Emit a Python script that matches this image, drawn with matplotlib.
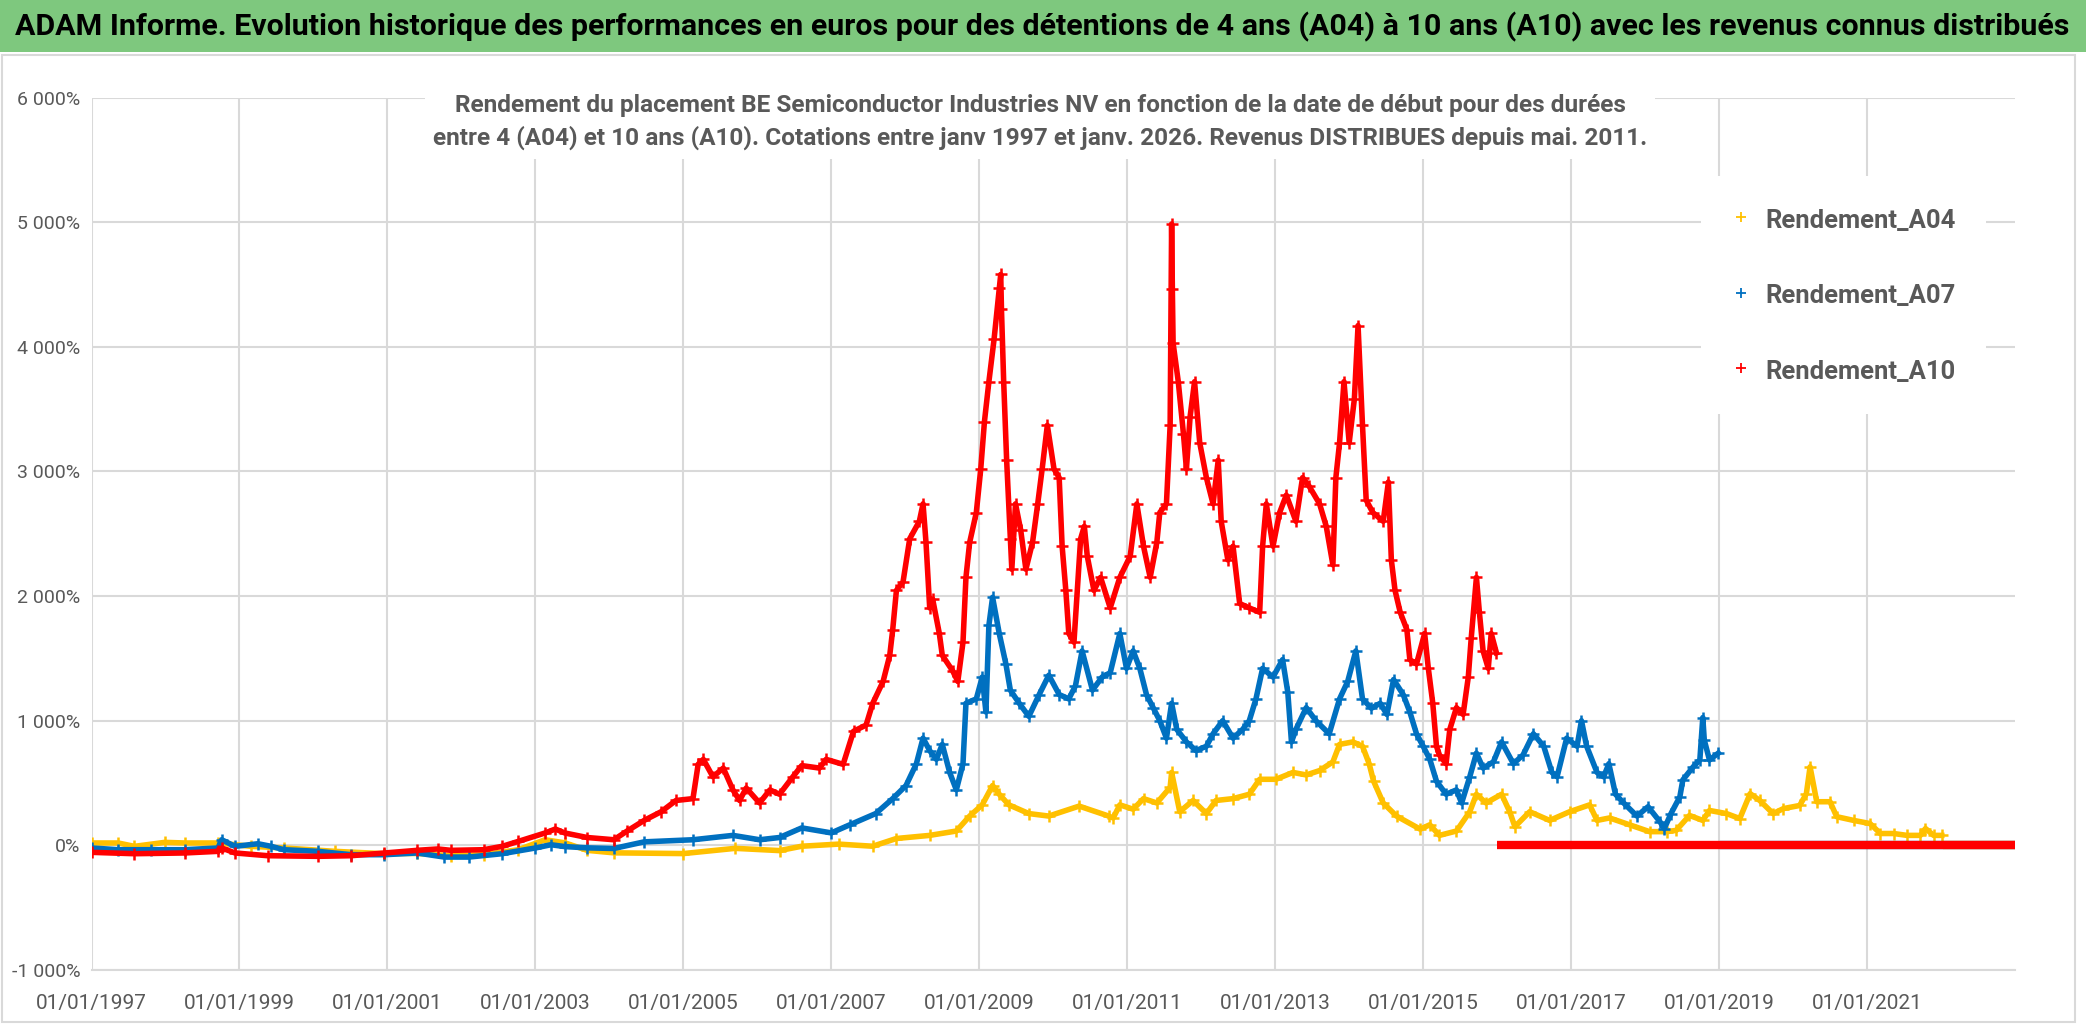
import numpy as np
import matplotlib
matplotlib.use('Agg')
import matplotlib.pyplot as plt
from matplotlib.lines import Line2D
from matplotlib.patches import Rectangle

# ─────────────────────────────────────────────────────────────────────────────
# Data (dates in decimal years, returns in %)
# ─────────────────────────────────────────────────────────────────────────────
A04_DATES = [1997.0, 1997.36, 1997.58, 1997.99, 1998.26, 1998.71, 1999.16, 1999.6,
             2000.29, 2000.96, 2001.4, 2001.86, 2002.3, 2002.77, 2003.13, 2003.4,
             2003.7, 2004.06, 2005.0, 2005.7, 2006.3, 2006.6, 2007.1, 2007.56,
             2007.88, 2008.33, 2008.69, 2008.87, 2009.04, 2009.18, 2009.27, 2009.4,
             2009.67, 2009.94, 2010.35, 2010.75, 2010.81, 2010.9, 2011.08, 2011.22,
             2011.4, 2011.58, 2011.6, 2011.71, 2011.89, 2012.07, 2012.2, 2012.43,
             2012.65, 2012.79, 2013.01, 2013.24, 2013.42, 2013.6, 2013.78, 2013.87,
             2014.05, 2014.18, 2014.27, 2014.33, 2014.46, 2014.64, 2014.96, 2015.09,
             2015.22, 2015.45, 2015.63, 2015.72, 2015.85, 2016.06, 2016.17, 2016.24,
             2016.44, 2016.71, 2016.98, 2017.25, 2017.35, 2017.52, 2017.79, 2018.06,
             2018.29, 2018.42, 2018.6, 2018.78, 2018.87, 2019.1, 2019.28, 2019.42,
             2019.55, 2019.73, 2019.87, 2020.09, 2020.18, 2020.23, 2020.32, 2020.5,
             2020.59, 2020.82, 2021.04, 2021.18, 2021.36, 2021.54, 2021.72, 2021.79,
             2021.9, 2022.01]
A04_VALUES = [19, 19, -8, 24, 19, 19, -8, -21,
              -48, -67, -65, -83, -75, -35, 45, 20,
              -40, -60, -66, -24, -42, -7, 10, -7,
              55, 80, 115, 235, 325, 480, 410, 325,
              255, 235, 315, 235, 220, 325, 290, 375,
              340, 465, 585, 270, 360, 255, 360, 375,
              410, 530, 530, 585, 565, 600, 670, 810,
              830, 795, 655, 515, 340, 235, 130, 165,
              80, 115, 270, 410, 340, 410, 270, 150,
              270, 200, 270, 325, 200, 220, 165, 110,
              110, 120, 240, 200, 280, 255, 215, 415,
              360, 255, 295, 320, 415, 630, 350, 350,
              230, 200, 175, 95, 95, 80, 80, 135,
              80, 80]

A07_DATES = [1997.0, 1997.36, 1997.8, 1998.26, 1998.71, 1998.76, 1998.94, 1999.25,
             1999.43, 1999.6, 2000.06, 2000.51, 2000.96, 2001.4, 2001.77, 2002.1,
             2002.55, 2003.0, 2003.21, 2003.4, 2003.7, 2004.06, 2004.47, 2005.13,
             2005.67, 2006.03, 2006.3, 2006.6, 2007.0, 2007.25, 2007.6, 2007.83,
             2008.01, 2008.15, 2008.24, 2008.33, 2008.42, 2008.5, 2008.6, 2008.69,
             2008.78, 2008.82, 2008.96, 2009.04, 2009.09, 2009.13, 2009.18, 2009.27,
             2009.36, 2009.42, 2009.54, 2009.67, 2009.81, 2009.94, 2010.08, 2010.21,
             2010.3, 2010.39, 2010.53, 2010.66, 2010.77, 2010.9, 2010.99, 2011.08,
             2011.17, 2011.26, 2011.35, 2011.44, 2011.53, 2011.6, 2011.67, 2011.8,
             2011.93, 2012.07, 2012.16, 2012.29, 2012.43, 2012.56, 2012.65, 2012.74,
             2012.83, 2012.97, 2013.1, 2013.17, 2013.22, 2013.28, 2013.42, 2013.55,
             2013.73, 2013.87, 2013.98, 2014.09, 2014.18, 2014.3, 2014.42, 2014.51,
             2014.6, 2014.73, 2014.82, 2014.91, 2015.0, 2015.09, 2015.18, 2015.31,
             2015.45, 2015.52, 2015.63, 2015.72, 2015.81, 2015.95, 2016.06, 2016.22,
             2016.35, 2016.49, 2016.63, 2016.74, 2016.81, 2016.94, 2017.08, 2017.14,
             2017.21, 2017.35, 2017.44, 2017.51, 2017.6, 2017.71, 2017.89, 2018.04,
             2018.2, 2018.26, 2018.35, 2018.47, 2018.51, 2018.65, 2018.74, 2018.78,
             2018.8, 2018.87, 2018.99]
A07_VALUES = [-21, -35, -35, -35, -21, 45, -8, 13,
              -8, -35, -48, -75, -75, -61, -94, -94,
              -67, -21, 5, -10, -20, -25, 28, 45,
              80, 45, 63, 140, 100, 165, 255, 375,
              480, 655, 860, 760, 690, 810, 585, 445,
              655, 1140, 1175, 1350, 1070, 1765, 1990, 1700,
              1455, 1245, 1140, 1035, 1210, 1365, 1210, 1175,
              1280, 1560, 1245, 1350, 1385, 1700, 1420, 1560,
              1420, 1210, 1105, 1000, 860, 1140, 930, 830,
              760, 795, 895, 1000, 860, 930, 1000, 1175,
              1420, 1350, 1490, 1230, 830, 930, 1105, 1000,
              895, 1175, 1315, 1560, 1175, 1100, 1140, 1050,
              1330, 1210, 1070, 895, 795, 690, 515, 410,
              445, 340, 550, 740, 620, 670, 830, 655,
              725, 895, 795, 585, 550, 860, 795, 1000,
              795, 585, 550, 655, 410, 340, 235, 310,
              190, 135, 255, 390, 525, 630, 685, 1025,
              845, 685, 740]

A10_DATES = [1997.0, 1997.58, 1998.26, 1998.71, 1998.76, 1998.94, 1999.38, 2000.06,
             2000.51, 2000.96, 2001.4, 2001.68, 2001.86, 2002.3, 2002.55, 2002.77,
             2003.13, 2003.27, 2003.4, 2003.7, 2004.06, 2004.24, 2004.47, 2004.7,
             2004.9, 2005.13, 2005.2, 2005.27, 2005.4, 2005.54, 2005.67, 2005.76,
             2005.85, 2006.03, 2006.17, 2006.3, 2006.48, 2006.6, 2006.84, 2006.93,
             2007.16, 2007.3, 2007.47, 2007.56, 2007.7, 2007.79, 2007.83, 2007.88,
             2007.97, 2008.06, 2008.19, 2008.24, 2008.28, 2008.33, 2008.37, 2008.46,
             2008.5, 2008.64, 2008.71, 2008.78, 2008.82, 2008.87, 2008.96, 2009.02,
             2009.07, 2009.13, 2009.2, 2009.27, 2009.29, 2009.3, 2009.33, 2009.37,
             2009.42, 2009.44, 2009.49, 2009.56, 2009.63, 2009.72, 2009.79, 2009.85,
             2009.92, 2010.01, 2010.08, 2010.12, 2010.17, 2010.21, 2010.28, 2010.37,
             2010.42, 2010.46, 2010.55, 2010.64, 2010.77, 2010.9, 2011.04, 2011.13,
             2011.22, 2011.31, 2011.4, 2011.44, 2011.53, 2011.58, 2011.6, 2011.61,
             2011.62, 2011.69, 2011.76, 2011.8, 2011.85, 2011.91, 2011.98, 2012.07,
             2012.16, 2012.23, 2012.27, 2012.36, 2012.43, 2012.52, 2012.65, 2012.79,
             2012.83, 2012.88, 2012.97, 2013.06, 2013.15, 2013.28, 2013.37, 2013.46,
             2013.6, 2013.69, 2013.78, 2013.82, 2013.87, 2013.93, 2014.0, 2014.07,
             2014.12, 2014.18, 2014.23, 2014.32, 2014.46, 2014.53, 2014.57, 2014.62,
             2014.69, 2014.78, 2014.82, 2014.91, 2015.02, 2015.07, 2015.13, 2015.18,
             2015.22, 2015.31, 2015.36, 2015.45, 2015.54, 2015.61, 2015.65, 2015.72,
             2015.76, 2015.81, 2015.88, 2015.92, 2015.99]
A10_VALUES = [-56, -67, -61, -48, -21, -61, -83, -88,
              -83, -61, -40, -29, -40, -35, -8, 32,
              99, 131, 99, 63, 45, 115, 200, 270,
              360, 375, 650, 690, 550, 620, 445, 360,
              460, 340, 445, 410, 550, 640, 620, 690,
              650, 915, 965, 1140, 1315, 1525, 1730, 2045,
              2115, 2460, 2600, 2740, 2430, 1905, 1975, 1700,
              1525, 1400, 1315, 1630, 2150, 2430, 2670, 3020,
              3400, 3720, 4060, 4470, 4580, 4300, 3720, 3090,
              2460, 2215, 2740, 2530, 2215, 2430, 2740, 3020,
              3370, 3020, 2950, 2400, 2045, 1700, 1630, 2460,
              2560, 2320, 2045, 2150, 1905, 2150, 2320, 2740,
              2400, 2150, 2430, 2670, 2740, 3370, 4985, 4460,
              4030, 3720, 3300, 3020, 3440, 3720, 3230, 2950,
              2740, 3090, 2600, 2290, 2400, 1940, 1905, 1870,
              2400, 2740, 2400, 2670, 2810, 2600, 2950, 2880,
              2740, 2560, 2250, 2950, 3230, 3720, 3230, 3580,
              4170, 3370, 2770, 2670, 2600, 2915, 2290, 2045,
              1870, 1730, 1490, 1455, 1700, 1420, 1140, 795,
              725, 655, 930, 1105, 1050, 1350, 1665, 2150,
              1870, 1560, 1420, 1700, 1545]

# after the last start date of each horizon the sheet holds 0 %
ZERO_FROM = {"A04": 2022.03, "A07": 2019.01, "A10": 2016.0}
LAST_DATE = 2023.0

SERIES = [
    ("A04", A04_DATES, A04_VALUES, "#FFC000", "Rendement_A04"),
    ("A07", A07_DATES, A07_VALUES, "#0070C0", "Rendement_A07"),
    ("A10", A10_DATES, A10_VALUES, "#FF0000", "Rendement_A10"),
]

YTICKS = [-1000, 0, 1000, 2000, 3000, 4000, 5000, 6000]
XTICKS = list(range(1997, 2023, 2))

TITLE = ("ADAM Informe. Evolution historique des performances en euros pour des "
         "détentions de 4 ans (A04) à 10 ans (A10) avec les revenus connus distribués")
SUBTITLE = ("Rendement du placement BE Semiconductor Industries NV en fonction de la date de début pour des durées\n"
            "entre 4 (A04) et 10 ans (A10). Cotations entre janv 1997 et janv. 2026. Revenus DISTRIBUES depuis mai. 2011.")

FONT = ['Roboto', 'DejaVu Sans']
GREY = "#595959"
GRID = "#D9D9D9"

# ─────────────────────────────────────────────────────────────────────────────
# Figure
# ─────────────────────────────────────────────────────────────────────────────
W, H = 2086, 1032
plt.rcParams['font.family'] = FONT
fig = plt.figure(figsize=(W / 100, H / 100), dpi=100)


def fit_width(texts, target_px):
    """Scale font size of the given texts so the first one spans target_px."""
    fig.canvas.draw()
    r = fig.canvas.get_renderer()
    w = texts[0].get_window_extent(r).width
    for t in texts:
        t.set_fontsize(t.get_fontsize() * target_px / w)


# green title band + chart frame
fig.patches.append(Rectangle((0, 1 - 52 / H), 1, 52 / H, transform=fig.transFigure,
                             facecolor="#7EC87E", edgecolor="none", zorder=0))
fig.patches.append(Rectangle((2 / W, 10 / H), 2073 / W, 1 - 65 / H, transform=fig.transFigure,
                             facecolor="none", edgecolor=GRID, linewidth=1.5, zorder=0))
title = fig.text(1042 / W, 1 - 27 / H, TITLE, ha='center', va='center',
                 fontsize=20, fontweight='bold', color='black')

ax = fig.add_axes([91.5 / W, 1 - 970 / H, (2015 - 91.5) / W, (970 - 97.5) / H])

for key, dates, values, color, label in SERIES:
    ax.plot(dates, values, color=color, linewidth=4, marker='+',
            markersize=8, markeredgewidth=1.8, zorder=2)
    ax.plot([ZERO_FROM[key], LAST_DATE], [0, 0], color=color, linewidth=6,
            solid_capstyle='butt', zorder=2)

ax.set_xlim(1997.0, LAST_DATE)
ax.set_ylim(-1000, 6000)
ax.set_xticks(XTICKS)
ax.set_xticklabels([f"01/01/{y}" for y in XTICKS])
ax.set_yticks(YTICKS)
ax.set_yticklabels([f"{v:,}".replace(",", " ") + "%" for v in YTICKS])
ax.tick_params(axis='x', length=0, pad=17, labelsize=15, labelcolor=GREY)
ax.tick_params(axis='y', length=0, pad=8, labelsize=14, labelcolor=GREY)
ax.grid(True, color=GRID, linewidth=1.5, zorder=0)
ax.set_axisbelow(True)
for side in ['top', 'right', 'left']:
    ax.spines[side].set_visible(False)
ax.spines['bottom'].set_color(GRID)
ax.spines['bottom'].set_linewidth(1.5)

# subtitle sits on a white box over the grid
subtitle = fig.text(1040 / W, 1 - 122 / H, SUBTITLE, ha='center', va='center', fontsize=18,
                    fontweight='bold', color=GREY, linespacing=1.5,
                    bbox=dict(facecolor='white', edgecolor='none', pad=6), zorder=5)

handles = [Line2D([], [], linestyle='none', marker='+', color=c, markersize=7,
                  markeredgewidth=1.3) for _, _, _, c, _ in SERIES]
labels = [s[4] for s in SERIES]
leg = ax.legend(handles, labels, loc='upper left', bbox_to_anchor=(1701 / W, 1 - 176 / H),
                bbox_transform=fig.transFigure, frameon=True, fancybox=False,
                facecolor='white', edgecolor='none', framealpha=1, fontsize=22,
                labelcolor=GREY, handlelength=0.6, handletextpad=0.5,
                labelspacing=1.6, borderpad=1.0, borderaxespad=0)
leg.set_zorder(5)
for t in leg.get_texts():
    t.set_fontweight('bold')

fit_width([title], 2052)
fit_width([subtitle], 1215)
fit_width(leg.get_texts(), 190)

plt.savefig("out.png", dpi=100)
